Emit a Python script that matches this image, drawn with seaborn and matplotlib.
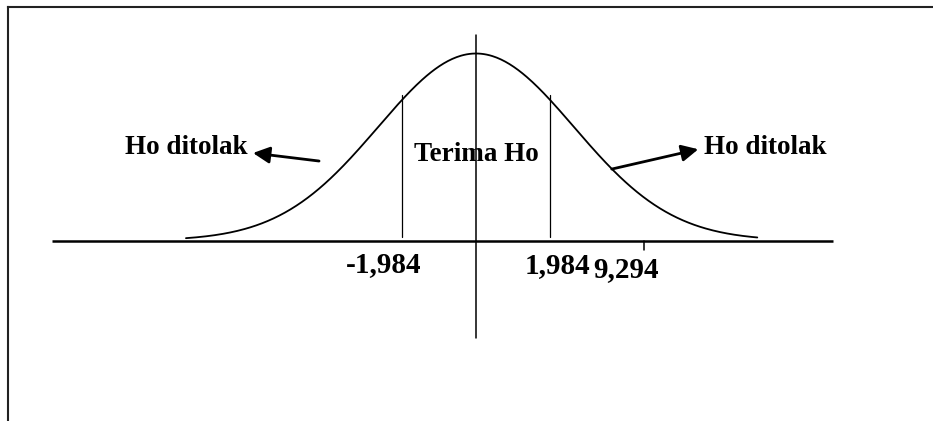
import numpy as np
import pandas as pd
import matplotlib.pyplot as plt
import seaborn as sns

# values shown on the diagram
crit_labels = ["-1,984", "1,984"]
t_hitung_label = "9,294"
region_labels = ["Ho ditolak", "Terima Ho", "Ho ditolak"]

# where they sit on the (not to scale) sketch, in sigma units
crit_pos = [-0.755, 0.755]
t_hitung_pos = 1.714

sns.set_style("white")
plt.rcParams['font.family'] = ['Liberation Serif', 'DejaVu Serif']
plt.rcParams['text.color'] = 'black'

fig = plt.figure(figsize=(9.33, 4.21), dpi=100)
ax = fig.add_axes([8 / 933, 0, 925 / 933, 414 / 421])

# bell curve
z = np.linspace(-2.96, 2.87, 400)
curve = pd.DataFrame({"z": z, "f": np.exp(-z ** 2 / 2)})
sns.lineplot(data=curve, x="z", y="f", color="black", lw=1.3, ax=ax)

# axes of the sketch
ax.plot([-4.323, 3.64], [0, 0], color="black", lw=1.8, solid_capstyle="butt")
ax.plot([0, 0], [1.099, -0.521], color="black", lw=1.1)

# critical value lines
for x in crit_pos:
    ax.plot([x, x], [0.021, 0.78], color="black", lw=0.9)
ax.plot([t_hitung_pos, t_hitung_pos], [0, -0.053], color="black", lw=1.1)

# labels
fs = 19.5
fs_num = 21
ax.text(-2.956, 0.4626, region_labels[0], ha="center", va="baseline", fontsize=fs, fontweight="bold")
ax.text(0, 0.4267, region_labels[1], ha="center", va="baseline", fontsize=fs, fontweight="bold")
ax.text(2.954, 0.4626, region_labels[2], ha="center", va="baseline", fontsize=fs, fontweight="bold")

ax.text(-0.939, -0.170, crit_labels[0], ha="center", va="baseline", fontsize=fs_num, fontweight="bold")
ax.text(0.835, -0.174, crit_labels[1], ha="center", va="baseline", fontsize=fs_num, fontweight="bold")
ax.text(1.526, -0.195, t_hitung_label, ha="center", va="baseline", fontsize=fs_num, fontweight="bold")

# arrows to the rejection regions
arrow = dict(arrowstyle="-|>,head_length=1.0,head_width=0.5", color="black", lw=2.0, shrinkA=0, shrinkB=0)
ax.annotate("", xy=(-2.276, 0.468), xytext=(-1.602, 0.425), arrowprops=arrow)
ax.annotate("", xy=(2.268, 0.488), xytext=(1.385, 0.382), arrowprops=arrow)

ax.set_xlim(-4.776, 4.663)
ax.set_ylim(-0.9652, 1.2487)
ax.set_xticks([])
ax.set_yticks([])
ax.set_xlabel("")
ax.set_ylabel("")
for side in ["right", "bottom"]:
    ax.spines[side].set_visible(False)
for side in ["top", "left"]:
    ax.spines[side].set_visible(True)
    ax.spines[side].set_color("#222222")
    ax.spines[side].set_linewidth(1.5)

fig.savefig("out.png", dpi=100)
